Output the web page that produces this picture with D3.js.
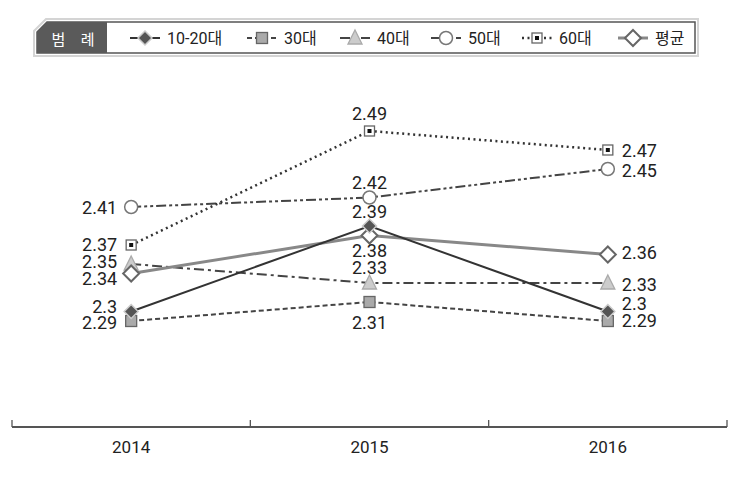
<!DOCTYPE html>
<html>
<head>
<meta charset="utf-8">
<script src="https://cdn.jsdelivr.net/npm/d3@7"></script>
<style>
body{margin:0;background:#fff;}
svg{display:block;font-family:Roboto,"Noto Sans CJK KR",sans-serif;}
</style>
</head>
<body>
<svg id="box" width="731" height="484"></svg>
<script>
let years=["2014","2015","2016"];
let names=["10-20대","30대","40대","50대","60대","평균"];
let v1020=[2.3,2.39,2.3];
let v30=[2.29,2.31,2.29];
let v40=[2.35,2.33,2.33];
let v50=[2.41,2.42,2.45];
let v60=[2.37,2.49,2.47];
let vAvg=[2.34,2.38,2.36];
let labelText=[["2.3","2.39","2.3"],["2.29","2.31","2.29"],["2.35","2.33","2.33"],["2.41","2.42","2.45"],["2.37","2.49","2.47"],["2.34","2.38","2.36"]];

// styles per series
let lineStyle=[
  {stroke:"#333",w:2,dash:null,mark:"diamondDark"},
  {stroke:"#444",w:2,dash:"5,3",mark:"squareGray"},
  {stroke:"#444",w:2,dash:"10,4,3,4",mark:"triangle"},
  {stroke:"#444",w:2,dash:"10,3,3,3,3,3",mark:"circle"},
  {stroke:"#333",w:2.5,dash:"2,3.5",mark:"squareDot"},
  {stroke:"#888",w:3,dash:null,mark:"diamondWhite"}
];
// label placement: [dx,dy,anchor] per point
let labelPos=[
  [[-14,1,"end"],[0,-8.5,"middle"],[14,-2,"start"]],
  [[-14,7.5,"end"],[0,26.5,"middle"],[14,5.5,"start"]],
  [[-14,3.5,"end"],[0,-9.5,"middle"],[14,7.5,"start"]],
  [[-14,6.5,"end"],[0,-9,"middle"],[14,7.5,"start"]],
  [[-14,5.5,"end"],[0,-11.5,"middle"],[14,6.5,"start"]],
  [[-14,11,"end"],[0,21,"middle"],[14,4,"start"]]
];
let series=[v1020,v30,v40,v50,v60,vAvg];

let box=d3.select("#box");
let xScale=d3.scaleBand().domain(years).range([12,727]);
let yScale=d3.scaleLinear().domain([2.29,2.49]).range([321,131]);
let cx=(i)=>xScale(years[i])+xScale.bandwidth()/2;

function diamond(x,y,r){
  return "M"+x+","+(y-r)+"L"+(x+r)+","+y+"L"+x+","+(y+r)+"L"+(x-r)+","+y+"Z";
}
function marker(g,type,x,y){
  if(type=="diamondDark"){
    g.append("path").attr("d",diamond(x,y,7)).attr("fill","#555").attr("stroke","#ccc").attr("stroke-width",1.5);
  } else if(type=="squareGray"){
    g.append("rect").attr("x",x-5.5).attr("y",y-5.5).attr("width",11).attr("height",11).attr("fill","#aaa").attr("stroke","#666").attr("stroke-width",1.3);
  } else if(type=="triangle"){
    g.append("path").attr("d","M"+x+","+(y-8)+"L"+(x+7)+","+(y+6)+"L"+(x-7)+","+(y+6)+"Z").attr("fill","#ccc").attr("stroke","#aaa").attr("stroke-width",1.3);
  } else if(type=="circle"){
    g.append("circle").attr("cx",x).attr("cy",y).attr("r",6.5).attr("fill","#fff").attr("stroke","#777").attr("stroke-width",1.5);
  } else if(type=="squareDot"){
    g.append("rect").attr("x",x-5).attr("y",y-5).attr("width",10).attr("height",10).attr("fill","#fff").attr("stroke","#666").attr("stroke-width",1.3);
    g.append("rect").attr("x",x-2).attr("y",y-2).attr("width",4).attr("height",4).attr("fill","#111");
  } else if(type=="diamondWhite"){
    g.append("path").attr("d",diamond(x,y,8)).attr("fill","#fff").attr("stroke","#666").attr("stroke-width",2);
  }
}

// lines
let line=d3.line().x((d,i)=>cx(i)).y(d=>yScale(d));
let drawOrder=[1,2,3,4,5,0];
drawOrder.forEach(s=>{
  let st=lineStyle[s];
  box.append("path").datum(series[s]).attr("d",line).attr("fill","none")
    .attr("stroke",st.stroke).attr("stroke-width",st.w).attr("stroke-dasharray",st.dash);
});
// markers
let mg=box.append("g");
drawOrder.forEach(s=>{
  series[s].forEach((v,i)=>marker(mg,lineStyle[s].mark,cx(i),yScale(v)));
});
// labels
series.forEach((vals,s)=>{
  vals.forEach((v,i)=>{
    let p=labelPos[s][i];
    box.append("text").attr("x",cx(i)+p[0]).attr("y",yScale(v)+p[1]).attr("text-anchor",p[2])
      .style("font-size","18px").attr("fill","#222").text(labelText[s][i]);
  });
});

// x axis
let axY=427;
box.append("line").attr("x1",12).attr("x2",727).attr("y1",axY).attr("y2",axY).attr("stroke","#555").attr("stroke-width",1.8);
let edges=years.map(d=>xScale(d)).concat([xScale(years[2])+xScale.bandwidth()]);
edges.forEach(e=>{
  box.append("line").attr("x1",e).attr("x2",e).attr("y1",axY-7).attr("y2",axY).attr("stroke","#555").attr("stroke-width",1.3);
});
years.forEach((y,i)=>{
  box.append("text").attr("x",cx(i)).attr("y",453).attr("text-anchor","middle").style("font-size","17px").attr("fill","#222").text(y);
});

// legend
let lg=box.append("g");
lg.append("path").attr("d","M46,19 L698,19 L698,56 L34,56 L34,31 Z").attr("fill","#fff").attr("stroke","#d4d4d4").attr("stroke-width",2);
lg.append("path").attr("d","M47,22 L695,22 L695,53 L37,53 L37,32 Z").attr("fill","#fff").attr("stroke","#555").attr("stroke-width",1.5);
lg.append("path").attr("d","M47,22 L107,22 L107,53 L37,53 L37,32 Z").attr("fill","#5a5a5a");
lg.append("text").attr("x",76).attr("y",45).attr("text-anchor","middle").attr("fill","#fff")
  .style("font-family","'Noto Sans CJK KR'").style("font-size","15px").style("letter-spacing","6px").text("범 례");
let legX=[130,247,340,431,522,618];
let legY=38;
names.forEach((n,s)=>{
  let st=lineStyle[s];
  let x0=legX[s];
  lg.append("line").attr("x1",x0).attr("x2",x0+30).attr("y1",legY).attr("y2",legY).attr("stroke",st.stroke)
    .attr("stroke-width",st.w).attr("stroke-dasharray",st.dash);
  marker(lg,st.mark,x0+15,legY);
  lg.append("text").attr("x",x0+37).attr("y",legY+6).style("font-family","Roboto,'Noto Sans CJK KR'")
    .style("font-size","16px").attr("fill","#222").text(n);
});
</script>
</body>
</html>
